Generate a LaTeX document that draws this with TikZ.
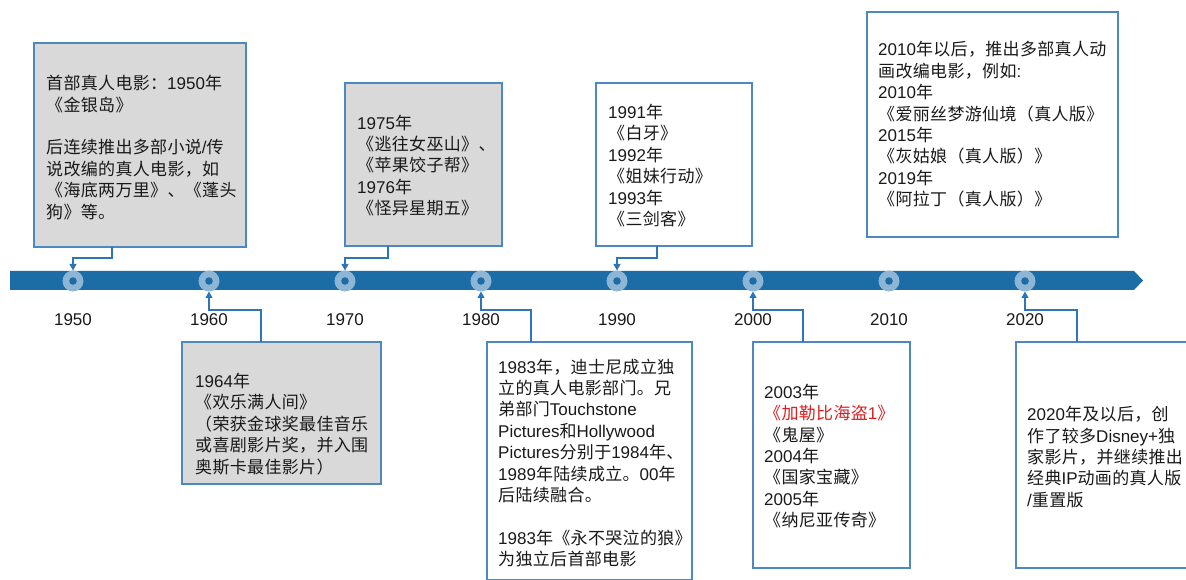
\documentclass[tikz,border=0pt]{standalone}
\usepackage{fontspec}
\setmainfont{Noto Sans CJK SC}[LetterSpace=2]
\newfontfamily\lat{Liberation Sans}
\newcommand\lnum[1]{{\lat#1}}
\usetikzlibrary{arrows.meta}

\definecolor{barblue}{RGB}{28,108,166}
\definecolor{ringblue}{RGB}{143,181,214}
\definecolor{edgeblue}{RGB}{78,136,192}
\definecolor{linkblue}{RGB}{46,117,182}
\definecolor{boxgray}{RGB}{217,217,217}
\definecolor{hotred}{RGB}{220,30,30}

\begin{document}
\begin{tikzpicture}[x=1pt,y=1pt,
    box/.style={draw=edgeblue, line width=1.2pt, inner sep=0pt, outer sep=0pt},
    gbox/.style={box, fill=boxgray},
    txt/.style={align=left, anchor=west, inner sep=0pt, text=black!90,
      font=\fontsize{17}{21.4}\selectfont},
    yearlbl/.style={inner sep=0pt, text=black!90, font=\lat\fontsize{17}{20}\selectfont},
    dot/.style={circle, fill=ringblue, minimum size=21pt, inner sep=0pt, outer sep=0pt,
      path picture={\fill[barblue] (path picture bounding box.center) circle (3.8pt);}},
    conn/.style={draw=linkblue, line width=1.2pt, -{Triangle[length=6.5pt,width=7pt]}}]
            \useasboundingbox (0,0) rectangle (1186,579);
            \clip (0,0) rectangle (1186,579);
            \fill[barblue] (10,289) -- (1134,289) -- (1143,298.5) -- (1134,308) -- (10,308) -- cycle;
            \foreach \yr [count=\i from 0] in {1950,1960,...,2020} {
                \node[dot] (c\yr) at (73+136*\i,298) {};
                \node[yearlbl] (y\yr) at (73+136*\i,259) {\yr};
            }

            \node[gbox, minimum width=212pt, minimum height=204pt] (b1950) at (140,434) {};
            \node[txt] (t1950) at ([xshift=12pt,yshift=-2.5pt]b1950.west) {首部真人电影：\lnum{1950}年\\《金银岛》\\[21.4pt]后连续推出多部小说\lnum{/}传\\说改编的真人电影，如\\《海底两万里》、《蓬头\\狗》等。};
            \node[gbox, minimum width=157pt, minimum height=163pt] (b1970) at (423.5,414.5) {};
            \node[txt] (t1970) at ([xshift=12pt,yshift=-1pt]b1970.west) {\lnum{1975}年\\《逃往女巫山》、\\《苹果饺子帮》\\\lnum{1976}年\\《怪异星期五》};
            \node[box, minimum width=156pt, minimum height=163pt] (b1990) at (674,414.5) {};
            \node[txt] (t1990) at ([xshift=12pt,yshift=-1pt]b1990.west) {\lnum{1991}年\\《白牙》\\\lnum{1992}年\\《姐妹行动》\\\lnum{1993}年\\《三剑客》};
            \node[box, minimum width=251pt, minimum height=225pt] (b2010) at (992.5,454.5) {};
            \node[txt] (t2010) at ([xshift=11pt]b2010.west) {\lnum{2010}年以后，推出多部真人动\\画改编电影，例如\lnum{:}\\\lnum{2010}年\\《爱丽丝梦游仙境（真人版》\\\lnum{2015}年\\《灰姑娘（真人版）》\\\lnum{2019}年\\《阿拉丁（真人版）》};

            \node[gbox, minimum width=199pt, minimum height=142pt] (b1960) at (281.5,166) {};
            \node[txt] (t1960) at ([xshift=13pt,yshift=-11pt]b1960.west) {\lnum{1964}年\\《欢乐满人间》\\（荣获金球奖最佳音乐\\或喜剧影片奖，并入围\\奥斯卡最佳影片）};
            \node[box, minimum width=205pt, minimum height=238pt] (b1980) at (589.5,118) {};
            \node[txt] (t1980) at ([xshift=11pt,yshift=-2pt]b1980.west) {\lnum{1983}年，迪士尼成立独\\立的真人电影部门。兄\\弟部门\lnum{Touchstone}\\\lnum{Pictures}和\lnum{Hollywood}\\\lnum{Pictures}分别于\lnum{1984}年、\\\lnum{1989}年陆续成立。\lnum{00}年\\后陆续融合。\\[21.4pt]\lnum{1983}年《永不哭泣的狼》\\为独立后首部电影};
            \node[box, minimum width=157pt, minimum height=226pt] (b2000) at (831.5,124) {};
            \node[txt] (t2000) at ([xshift=11pt,yshift=-1pt]b2000.west) {\lnum{2003}年\\{\color{hotred}《加勒比海盗\lnum{1}》}\\《鬼屋》\\\lnum{2004}年\\《国家宝藏》\\\lnum{2005}年\\《纳尼亚传奇》};
            \node[box, minimum width=179pt, minimum height=226pt] (b2020) at (1105.5,124) {};
            \node[txt] (t2020) at ([xshift=11pt,yshift=-2pt]b2020.west) {\lnum{2020}年及以后，创\\作了较多\lnum{Disney+}独\\家影片，并继续推出\\经典\lnum{IP}动画的真人版\\\lnum{/}重置版};

            \coordinate (k1950) at (112,321);
            \coordinate (k1970) at (388,321);
            \coordinate (k1990) at (657,321);
            \coordinate (k1960) at (261,269);
            \coordinate (k1980) at (531,269);
            \coordinate (k2000) at (803,269);
            \coordinate (k2020) at (1077,269);
            \foreach \yr in {1950,1970,1990} {
                \draw[conn] (b\yr.south -| k\yr) -- (k\yr) -| (c\yr.north);
            }
            \foreach \yr in {1960,1980,2000,2020} {
                \draw[conn] (b\yr.north -| k\yr) -- (k\yr) -| (c\yr.south);
            }
        \end{tikzpicture}
\end{document}
